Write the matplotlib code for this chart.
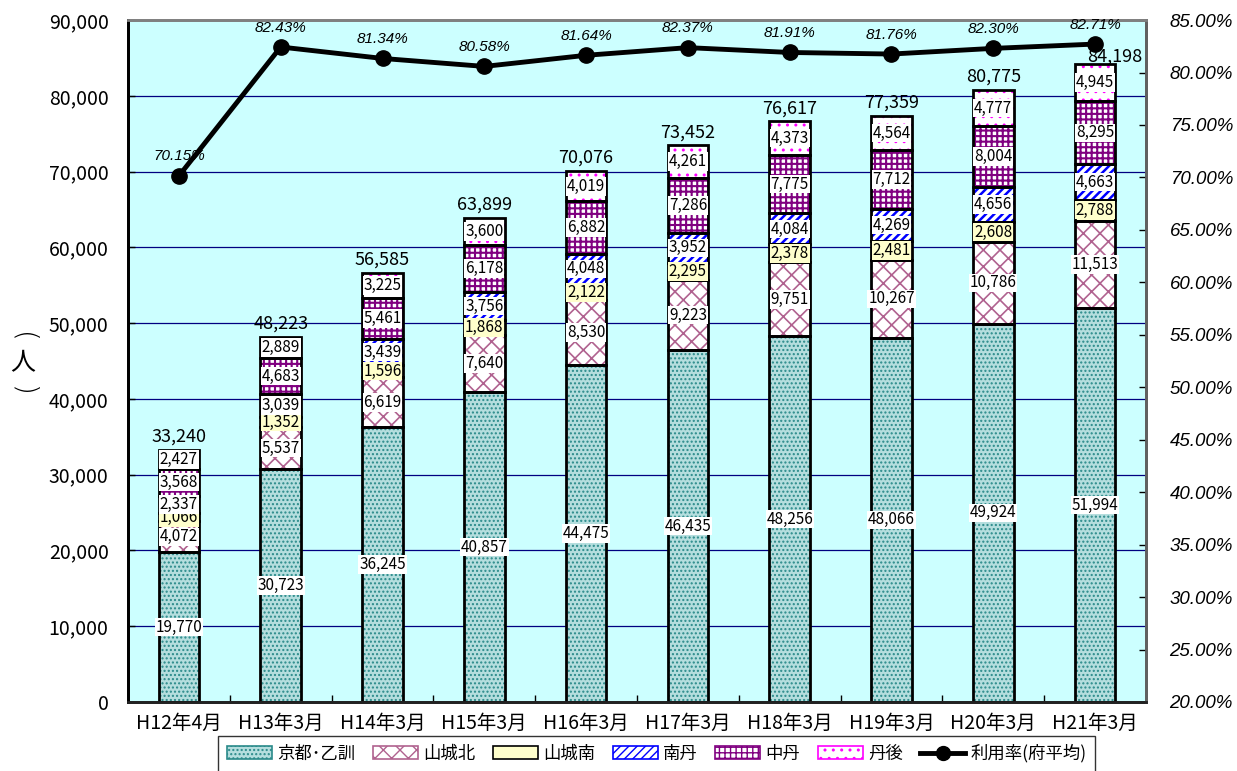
import matplotlib
matplotlib.use("Agg")
import matplotlib.pyplot as plt
from matplotlib.patches import Patch
from matplotlib.lines import Line2D
from matplotlib.ticker import FuncFormatter, MultipleLocator
import numpy as np

plt.rcParams["font.family"] = ["Noto Sans CJK JP", "DejaVu Sans"]
plt.rcParams["hatch.linewidth"] = 1.0

# 年度
periods = ["H12年4月", "H13年3月", "H14年3月", "H15年3月", "H16年3月",
           "H17年3月", "H18年3月", "H19年3月", "H20年3月", "H21年3月"]

# 圏域別 利用者数（人）
kyoto = [19770, 30723, 36245, 40857, 44475, 46435, 48256, 48066, 49924, 51994]
yamashiro_kita = [4072, 5537, 6619, 7640, 8530, 9223, 9751, 10267, 10786, 11513]
yamashiro_minami = [1066, 1352, 1596, 1868, 2122, 2295, 2378, 2481, 2608, 2788]
nantan = [2337, 3039, 3439, 3756, 4048, 3952, 4084, 4269, 4656, 4663]
chutan = [3568, 4683, 5461, 6178, 6882, 7286, 7775, 7712, 8004, 8295]
tango = [2427, 2889, 3225, 3600, 4019, 4261, 4373, 4564, 4777, 4945]
totals = [33240, 48223, 56585, 63899, 70076, 73452, 76617, 77359, 80775, 84198]

# 利用率（府平均, %）
usage_rate = [70.15, 82.43, 81.34, 80.58, 81.64, 82.37, 81.91, 81.76, 82.30, 82.71]

# name, values, face, hatch colour, hatch, hatch width, label box colour
series = [
    ("京都･乙訓", kyoto, "#b5dede", "#2a8a8a", "....", 1.0, "white"),
    ("山城北", yamashiro_kita, "white", "#b0628f", "xx", 1.2, "white"),
    ("山城南", yamashiro_minami, "#ffffcc", "black", None, 1.0, "#ffffcc"),
    ("南丹", nantan, "white", "#0000ff", "////", 1.8, "white"),
    ("中丹", chutan, "white", "#800080", "+++", 1.5, "white"),
    ("丹後", tango, "white", "#ff00ff", "..", 1.0, "white"),
]

fig = plt.figure(figsize=(12.37, 7.71), dpi=100)
ax = fig.add_axes([0.1035, 0.0895, 0.8229, 0.8845])
ax.set_facecolor("#ccffff")
ax2 = ax.twinx()

x = np.arange(len(periods))
width = 0.40
bottom = np.zeros(len(periods))
handles = []
for name, vals, face, hcol, hatch, hlw, boxcol in series:
    vals = np.array(vals)
    with plt.rc_context({"hatch.linewidth": hlw}):
        ax.bar(x, vals, width, bottom=bottom, color=face, edgecolor=hcol,
               hatch=hatch, linewidth=0, zorder=2)
        handles.append(Patch(facecolor=face, edgecolor=hcol, hatch=hatch,
                             linewidth=1.2, label=name))
    ax.bar(x, vals, width, bottom=bottom, fill=False, edgecolor="black",
           linewidth=2, zorder=3)
    for xi, v, b in zip(x, vals, bottom):
        ax.text(xi, b + v / 2, f"{v:,}", ha="center", va="center", fontsize=11,
                bbox=dict(facecolor=boxcol, edgecolor="none", pad=0.6), zorder=4)
    bottom += vals

for i, (xi, top, t) in enumerate(zip(x, bottom, totals)):
    # 最後の合計値は折れ線を避けて右へずらす
    off = (14, -1) if i == len(totals) - 1 else (0, 3)
    ax.annotate(f"{t:,}", (xi, top), xytext=off, textcoords="offset points",
                ha="center", va="bottom", fontsize=13, zorder=4)

ax.set_xlim(-0.5, len(periods) - 0.5)
ax.set_ylim(0, 90000)
ax.yaxis.set_major_locator(MultipleLocator(10000))
ax.yaxis.set_major_formatter(FuncFormatter(lambda v, p: f"{int(v):,}"))
ax.set_xticks(x)
ax.set_xticklabels(periods, fontsize=14)
ax.set_xticks(np.arange(0.5, len(periods) - 1, 1), minor=True)
ax.tick_params(axis="x", which="major", length=0, pad=8)
ax.tick_params(axis="x", which="minor", direction="in", length=5, width=1)
ax.tick_params(axis="y", direction="in", length=5, width=1, labelsize=14, pad=14)
ax.grid(axis="y", color="#000080", linewidth=0.9)
ax.set_axisbelow(True)

# 利用率の折れ線
ax2.plot(x, usage_rate, color="black", linewidth=3.5, marker="o",
         markersize=11, zorder=5)
for xi, v in zip(x, usage_rate):
    ax2.annotate(f"{v:.2f}%", (xi, v), xytext=(0, 9), textcoords="offset points",
                 ha="center", va="bottom", fontsize=11, style="italic",
                 family="Liberation Sans")
ax2.set_ylim(20, 85)
ax2.yaxis.set_major_locator(MultipleLocator(5))
ax2.yaxis.set_major_formatter(FuncFormatter(lambda v, p: f"{v:.2f}%"))
ax2.tick_params(axis="y", direction="in", length=5, width=1, pad=17)
for lab in ax2.get_yticklabels():
    lab.set_fontsize(13.5)
    lab.set_style("italic")
    lab.set_family("Liberation Sans")

for a in (ax, ax2):
    a.spines["left"].set_linewidth(2)
    a.spines["left"].set_color("black")
    a.spines["bottom"].set_linewidth(2)
    a.spines["bottom"].set_color("#222222")
    a.spines["top"].set_linewidth(2)
    a.spines["top"].set_color("#808080")
    a.spines["right"].set_linewidth(2)
    a.spines["right"].set_color("#606060")

handles.append(Line2D([], [], color="black", linewidth=3.5, marker="o",
                      markersize=10, label="利用率(府平均)"))
leg = fig.legend(handles=handles, loc="lower center", bbox_to_anchor=(0.531, -0.012),
                 ncol=7, fontsize=12.5, frameon=True, fancybox=False,
                 handlelength=2.6, handleheight=0.75, handletextpad=0.3,
                 columnspacing=1.0, borderpad=0.5)
leg.get_frame().set_edgecolor("black")
leg.get_frame().set_linewidth(1)

# 縦書きの軸ラベル（人）: 括弧を90度回して縦書き風に
fig.text(0.018, 1 - 337 / 771, "(", rotation=-90, ha="center", va="center",
         fontsize=20, family="DejaVu Sans", fontweight="light")
fig.text(0.018, 1 - 363 / 771, "人", ha="center", va="center", fontsize=18)
fig.text(0.018, 1 - 391 / 771, ")", rotation=-90, ha="center", va="center",
         fontsize=20, family="DejaVu Sans", fontweight="light")

fig.savefig("out.png", dpi=100)
